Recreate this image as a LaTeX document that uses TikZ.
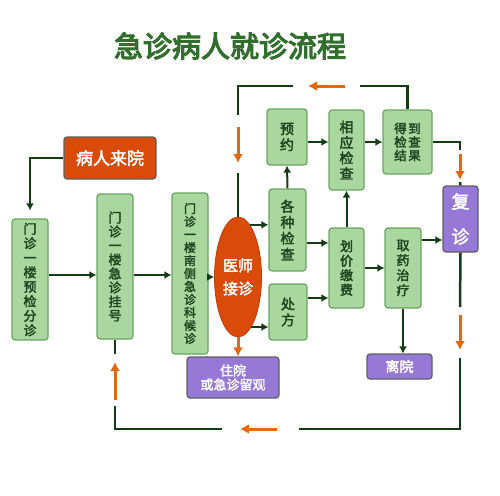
\documentclass[tikz,border=0pt]{standalone}
\usepackage{fontspec}
\setmainfont{Noto Sans CJK SC}[AutoFakeBold=2.5, BoldFeatures={FakeBold=0.6}]
\newfontfamily\heavyfont{Noto Sans CJK SC}[AutoFakeBold=4, BoldFeatures={FakeBold=3}]
\usetikzlibrary{shapes.geometric,arrows.meta}
\definecolor{gfill}{RGB}{170,215,160}
\definecolor{gdraw}{RGB}{105,165,95}
\definecolor{gtext}{RGB}{30,70,30}
\definecolor{dline}{RGB}{20,60,20}
\definecolor{oarrc}{RGB}{225,105,20}
\definecolor{ored}{RGB}{218,75,10}
\definecolor{purp}{RGB}{150,120,215}
\definecolor{pdraw}{RGB}{95,95,95}
\definecolor{titlec}{RGB}{50,110,45}
\tikzset{
  gbox/.style={draw=gdraw, fill=gfill, line width=1.2pt, rounded corners=3pt, inner sep=0pt, align=center, text=gtext, font=\bfseries\fontsize{13}{15}\selectfont},
  pbox/.style={draw=pdraw, fill=purp, line width=1.2pt, rounded corners=3pt, inner sep=0pt, align=center, text=white, font=\bfseries\fontsize{13}{14}\selectfont},
  obox/.style={draw=pdraw, fill=ored, line width=1.2pt, rounded corners=3pt, inner sep=0pt, align=center, text=white, font=\bfseries\fontsize{17}{18}\selectfont},
  arr/.style={draw=dline, line width=2pt, -{Latex[length=7pt,width=8pt]}},
  lin/.style={draw=dline, line width=2.5pt},
  oarr/.style={draw=oarrc, line width=3pt, -{Latex[length=9pt,width=10pt]}}
}
\begin{document}
\begin{tikzpicture}[x=1pt,y=-1pt]
\useasboundingbox (0,0) rectangle (500,495);
\fill[white] (0,0) rectangle (500,495);

% title
\node[inner sep=0pt, text=titlec, font=\heavyfont\bfseries\fontsize{29}{30}\selectfont] (title) at (230,46) {急诊病人就诊流程};

% nodes
\node[obox, minimum width=92pt, minimum height=42pt] (brly) at (110,158) {病人来院};
\node[gbox, minimum width=36pt, minimum height=121pt, font=\bfseries\fontsize{13}{14.5}\selectfont] (b1) at (30,279.5) {门\\诊\\一\\楼\\预\\检\\分\\诊};
\node[gbox, minimum width=36pt, minimum height=145pt, font=\bfseries\fontsize{13}{14}\selectfont] (b2) at (115,266.5) {门\\诊\\一\\楼\\急\\诊\\挂\\号};
\node[gbox, minimum width=36pt, minimum height=161pt, font=\bfseries\fontsize{12}{13}\selectfont] (b3) at (190,273.5) {门\\诊\\一\\楼\\南\\侧\\急\\诊\\科\\候\\诊};
\node[ellipse, fill=ored, draw=ored!85!black, line width=0.8pt, minimum width=47pt, minimum height=120pt, inner sep=0pt, align=center, text=white, font=\bfseries\fontsize{15}{23}\selectfont] (ell) at (238,277) {医师\\接诊};
\node[pbox, minimum width=92pt, minimum height=41pt] (zy) at (233,377.5) {住院\\或急诊留观};
\node[gbox, minimum width=40pt, minimum height=56pt, font=\bfseries\fontsize{14}{16}\selectfont] (yy) at (287,137) {预\\约};
\node[gbox, minimum width=37pt, minimum height=82pt, font=\bfseries\fontsize{14}{16}\selectfont] (gzjc) at (287.5,230) {各\\种\\检\\查};
\node[gbox, minimum width=38pt, minimum height=56pt, font=\bfseries\fontsize{14}{16}\selectfont] (cf) at (288,312) {处\\方};
\node[gbox, minimum width=35pt, minimum height=80pt, font=\bfseries\fontsize{14}{15.5}\selectfont] (xyjc) at (346.5,150) {相\\应\\检\\查};
\node[gbox, minimum width=49pt, minimum height=64pt, font=\bfseries\fontsize{12.5}{13.5}\selectfont] (djg) at (407.5,142) {得\hspace{1.5pt}到\\检\hspace{1.5pt}查\\结\hspace{1.5pt}果};
\node[gbox, minimum width=35pt, minimum height=80pt, font=\bfseries\fontsize{13}{14.5}\selectfont] (hj) at (346.5,268) {划\\价\\缴\\费};
\node[gbox, minimum width=36pt, minimum height=80pt, font=\bfseries\fontsize{13}{15}\selectfont] (qy) at (403,268) {取\\药\\治\\疗};
\node[pbox, minimum width=35pt, minimum height=66pt, font=\bfseries\fontsize{18}{35}\selectfont] (fz) at (460.5,219) {复\\诊};
\node[pbox, minimum width=65pt, minimum height=25pt, font=\bfseries\fontsize{14}{15}\selectfont] (ly) at (399.5,366.5) {离院};

% main arrows
\draw[arr, shorten >=8pt] (brly.west) -| (b1.north);
\draw[arr] (b1.east |- 0,275) -- (b2.west |- 0,275);
\draw[arr] (b2.east |- 0,275) -- (b3.west |- 0,275);
\draw[arr] (b3.east |- ell.west) -- (ell.west);
\draw[arr] (ell.77) -- (ell.77 -| gzjc.west);
\draw[arr] (ell.-75) -- (ell.-75 -| cf.west);
\draw[arr] (gzjc.north) -- (yy.south);
\draw[arr] (yy.east |- 0,142) -- (xyjc.west |- 0,142);
\draw[arr] (xyjc.east |- 0,142) -- (djg.west |- 0,142);
\draw[arr] (gzjc.east |- 0,243) -- (hj.west |- 0,243);
\draw[arr] (cf.east |- 0,298) -- (hj.west |- 0,298);
\draw[arr] (hj.north) -- (xyjc.south);
\draw[arr] (hj.east) -- (qy.west);
\draw[arr] (qy.east |- 0,240) -- (fz.west |- 0,240);
\draw[arr] (qy.south) -- (qy.south |- ly.north);
\draw[oarr] (ell.south) -- (ell.south |- zy.north);

% top loop
\coordinate (tA) at (238,173);
\coordinate (tB) at (238,163);
\coordinate (tC) at (238,127);
\coordinate (tD) at (238,115);
\coordinate (tE) at (238,86);
\coordinate (tF) at (293,86);
\coordinate (tG) at (308,86);
\coordinate (tH) at (345,86);
\coordinate (tI) at (360,86);
\draw[lin] (ell.north) -- (tA);
\draw[oarr] (tC) -- (tB);
\draw[lin] (tD) -- (tE) -- (tF);
\draw[oarr] (tH) -- (tG);
\draw[lin] (tI) -| (djg.north);

% right link to 复诊
\coordinate (rA) at (460,150);
\coordinate (rB) at (460,154);
\coordinate (rC) at (460,180);
\coordinate (rD) at (460,182);
\draw[lin] (djg.east) -| (rA);
\draw[oarr] (rB) -- (rC);
\draw[lin] (rD) -- (fz.north);

% bottom loop
\coordinate (bA) at (460,307);
\coordinate (bB) at (460,315);
\coordinate (bC) at (460,350);
\coordinate (bD) at (460,358);
\coordinate (bE) at (460,429);
\coordinate (bF) at (299,429);
\coordinate (bG) at (277,429);
\coordinate (bH) at (240,429);
\coordinate (bI) at (222,429);
\coordinate (bJ) at (115,429);
\coordinate (bK) at (115,406);
\coordinate (bL) at (115,400);
\coordinate (bM) at (115,362);
\coordinate (bN) at (115,354);
\draw[lin] (fz.south) -- (bA);
\draw[oarr] (bB) -- (bC);
\draw[lin] (bD) -- (bE) -- (bF);
\draw[oarr] (bG) -- (bH);
\draw[lin] (bI) -- (bJ) -- (bK);
\draw[oarr] (bL) -- (bM);
\draw[lin] (bN) -- (b2.south);
\end{tikzpicture}
\end{document}
